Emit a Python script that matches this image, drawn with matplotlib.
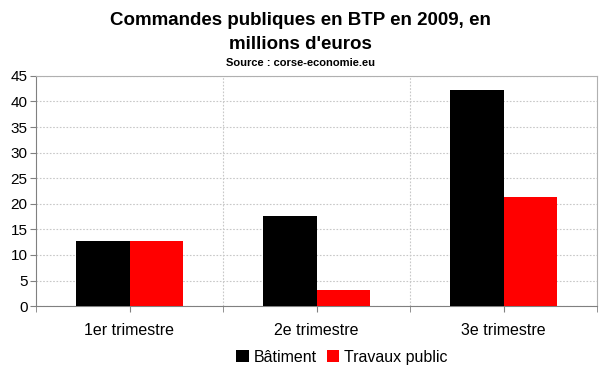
import matplotlib.pyplot as plt
import numpy as np

plt.rcParams['font.family'] = ['Liberation Sans', 'DejaVu Sans']

# Données
trimestres = ['1er trimestre', '2e trimestre', '3e trimestre']
batiment = [12.8, 17.7, 42.2]
travaux_public = [12.8, 3.2, 21.4]

fig = plt.figure(figsize=(6, 3.72), dpi=100)
ax = fig.add_axes([0.06, 0.177, 0.935, 0.619])

x = np.arange(len(trimestres))
w = 0.285
ax.bar(x - w / 2, batiment, w, color='black', label='Bâtiment', zorder=3)
ax.bar(x + w / 2, travaux_public, w, color='#ff0000', label='Travaux public', zorder=3)

ax.set_xlim(-0.5, 2.5)
ax.set_ylim(0, 45)
ax.set_yticks(range(0, 46, 5))
ax.set_xticks(x)
ax.set_xticklabels(trimestres, fontsize=11.5)
ax.set_xticks([-0.5, 0.5, 1.5, 2.5], minor=True)
ax.tick_params(axis='y', labelsize=11, length=4, color='#808080', pad=2)
ax.tick_params(axis='x', which='both', length=4, color='#808080', pad=8)

# Grille
ax.yaxis.grid(True, linestyle=(0, (1.5, 1.5)), color='#c8c8c8', linewidth=0.8, zorder=0)
for b in [0.5, 1.5]:
    ax.axvline(b, linestyle=(0, (1.5, 1.5)), color='#c8c8c8', linewidth=0.8, zorder=0)

for s in ['left', 'bottom']:
    ax.spines[s].set_color('#808080')
for s in ['top', 'right']:
    ax.spines[s].set_color('#b0b0b0')

fig.text(0.5, 0.945, "Commandes publiques en BTP en 2009, en", ha='center', va='center',
         fontsize=13.5, fontweight='bold')
fig.text(0.5, 0.88, "millions d'euros", ha='center', va='center',
         fontsize=13.5, fontweight='bold')
fig.text(0.5, 0.83, "Source : corse-economie.eu", ha='center', va='center',
         fontsize=8, fontweight='bold')

ax.legend(loc='center', bbox_to_anchor=(0.57, 0.04), bbox_transform=fig.transFigure,
          ncol=2, frameon=False, fontsize=11.5, handlelength=0.8, handleheight=0.8,
          handletextpad=0.3, columnspacing=0.6)

fig.savefig('out.png', dpi=100)
